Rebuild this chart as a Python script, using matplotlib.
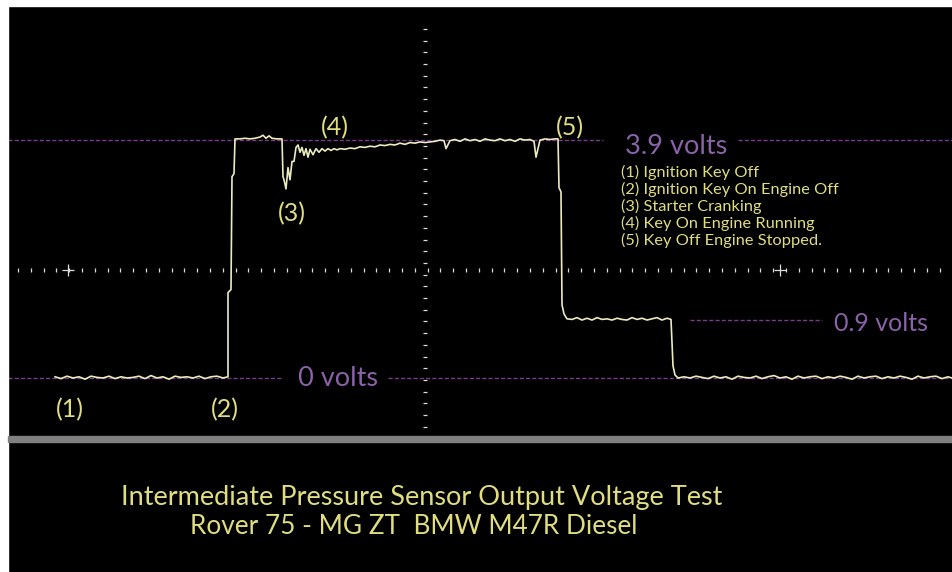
import numpy as np
import matplotlib.pyplot as plt
from matplotlib.patches import Rectangle

# scope trace, time in screen units, level in volts
t_off1 = [55, 61, 67, 73, 79, 85, 91, 97, 103, 109, 115, 121, 127, 133, 139,
          145, 151, 157, 163, 169, 175, 181, 187, 193, 199, 205, 211, 217, 223, 228]
v_off1 = [0.02, -0.01, 0.03, 0.0, 0.02, -0.02, 0.03, 0.01, 0.0, 0.03, -0.01, 0.02,
          0.0, 0.01, 0.03, -0.01, 0.04, 0.0, 0.02, -0.02, 0.03, 0.01, 0.02, 0.0,
          0.03, -0.01, 0.02, 0.03, 0.0, 0.02]

t_rise = [228, 231, 232, 234, 235]
v_rise = [1.40, 1.45, 3.30, 3.35, 3.92]

t_keyon = [240, 245, 250, 255, 260, 263, 266, 269, 272, 277, 282]
v_keyon = [3.92, 3.93, 3.92, 3.93, 3.95, 3.98, 3.93, 3.97, 3.93, 3.92, 3.92]

t_crank = [283, 284, 286, 288, 290, 292, 294, 296, 298, 300, 302, 304, 306, 308,
           310, 313, 316, 319, 322, 325, 328, 331, 334, 337, 340, 345, 350, 355,
           360, 365, 370, 375, 380, 385, 390, 395, 400, 405, 410, 415, 420, 425, 430]
v_crank = [3.30, 3.25, 3.10, 3.45, 3.25, 3.55, 3.55, 3.78, 3.82, 3.70, 3.78, 3.65,
           3.76, 3.62, 3.75, 3.66, 3.76, 3.70, 3.76, 3.72, 3.76, 3.73, 3.76, 3.74,
           3.76, 3.75, 3.77, 3.76, 3.79, 3.78, 3.80, 3.79, 3.82, 3.81, 3.83, 3.82,
           3.85, 3.83, 3.86, 3.85, 3.87, 3.86, 3.87]

t_run = [435, 440, 444, 446, 450, 455, 460, 465, 470, 475, 480, 485, 490, 495,
         500, 505, 510, 515, 520, 525, 530, 534, 536, 540, 545, 550, 555, 558]
v_run = [3.88, 3.90, 3.89, 3.76, 3.89, 3.91, 3.88, 3.92, 3.89, 3.91, 3.88, 3.92,
         3.90, 3.89, 3.92, 3.89, 3.91, 3.88, 3.92, 3.90, 3.91, 3.88, 3.62, 3.90,
         3.92, 3.91, 3.92, 3.92]

t_stop = [559, 561, 562, 564, 567]
v_stop = [3.12, 3.05, 1.20, 1.05, 0.97]

t_mid = [572, 577, 582, 587, 592, 597, 602, 607, 612, 617, 622, 627, 632, 637,
         642, 647, 652, 657, 662, 667, 671]
v_mid = [0.96, 0.99, 0.95, 0.98, 0.95, 0.99, 0.96, 0.97, 0.95, 0.98, 0.96, 0.95,
         0.99, 0.96, 0.98, 0.95, 0.97, 0.99, 0.95, 0.98, 0.96]

t_fall = [673, 675, 678]
v_fall = [0.20, 0.05, 0.0]

t_off2 = [684, 690, 696, 702, 708, 714, 720, 726, 732, 738, 744, 750, 756, 762,
          768, 774, 780, 786, 792, 798, 804, 810, 816, 822, 828, 834, 840, 846,
          852, 858, 864, 870, 876, 882, 888, 894, 900, 906, 912, 918, 924, 930,
          936, 942, 948, 952]
v_off2 = [0.02, 0.0, 0.03, 0.01, -0.01, 0.03, 0.0, 0.02, -0.02, 0.03, 0.01, 0.0,
          0.03, -0.01, 0.02, 0.04, 0.0, 0.02, -0.02, 0.03, 0.0, 0.02, 0.03, -0.01,
          0.02, 0.0, 0.03, 0.01, -0.02, 0.03, 0.0, 0.02, 0.03, -0.01, 0.02, 0.0,
          0.03, 0.01, -0.02, 0.03, 0.0, 0.02, 0.03, -0.01, 0.02, 0.0]

trace_t = t_off1 + t_rise + t_keyon + t_crank + t_run + t_stop + t_mid + t_fall + t_off2
trace_v = v_off1 + v_rise + v_keyon + v_crank + v_run + v_stop + v_mid + v_fall + v_off2

# reference levels: (volts, segments)
ref_levels = [
    (3.90, [(8, 603), (738, 952)]),
    (0.95, [(690, 822)]),
    (0.00, [(8, 283), (388, 952)]),
]
level_labels = [(676, 3.79, '3.9 volts', 19.5), (881, 0.90, '0.9 volts', 18),
                (338, 0.0, '0 volts', 19.5)]

event_labels = [(70, -0.52, '(1)'), (225, -0.52, '(2)'), (292, 2.70, '(3)'),
                (335, 4.10, '(4)'), (570, 4.10, '(5)')]
legend_lines = ['(1) Ignition Key Off', '(2) Ignition Key On Engine Off',
                '(3) Starter Cranking', '(4) Key On Engine Running',
                '(5) Key Off Engine Stopped.']
title_lines = ['Intermediate Pressure Sensor Output Voltage Test',
               'Rover 75 - MG ZT  BMW M47R Diesel']

purple = '#8a62a8'
line_purple = '#7a3a8e'
yellow = '#e0dc80'
trace_col = '#ecebc0'
font = ['Lato', 'DejaVu Sans']

fig = plt.figure(figsize=(9.52, 5.72), dpi=100, facecolor='black')
# white borders of the screenshot
fig.patches.append(Rectangle((0, 0), 8 / 952, 1, transform=fig.transFigure,
                             color='white', zorder=0))
fig.patches.append(Rectangle((0, 1 - 6 / 572), 1, 6 / 572, transform=fig.transFigure,
                             color='white', zorder=0))
fig.patches.append(Rectangle((8 / 952, (572 - 442) / 572), 1, 6 / 572,
                             transform=fig.transFigure, color='#808080', zorder=0))

ax = fig.add_axes([8 / 952, (572 - 436) / 572, 944 / 952, 430 / 572])
ax.set_facecolor('black')
ax.set_xlim(8, 952)
ax.set_ylim((378 - 436) / 61, (378 - 6) / 61)
ax.axis('off')

# graticule centre lines
cx, cy = 425, (378 - 270) / 61
ax.scatter(np.full(35, cx), np.arange(-0.80, 6.0, 11.7 / 61)[:35], marker='_',
           s=12, color='#dddddd', linewidths=0.9, zorder=2)
hx = np.arange(18, 952, 12.8)
ax.scatter(hx, np.full(len(hx), cy), marker='|', s=8, color='#dddddd',
           linewidths=0.9, zorder=2)
ax.scatter([68, 780], [cy, cy], marker='+', s=70, color='#dddddd', linewidths=0.9, zorder=2)

for lvl, segs in ref_levels:
    for a, b in segs:
        ax.plot([a, b], [lvl, lvl], color=line_purple, lw=1.0, ls=(0, (3, 1.5)), zorder=3)

ax.plot(trace_t, trace_v, color=trace_col, lw=1.2, zorder=4)

for x, y, s, fs in level_labels:
    ax.text(x, y, s, color=purple, fontsize=fs, ha='center', va='center', family=font)
for x, y, s in event_labels:
    ax.text(x, y, s, color=yellow, fontsize=18, ha='center', va='center', family=font)
for i, s in enumerate(legend_lines):
    ax.text(621, (378 - 172 - 17 * i) / 61, s, color=yellow, fontsize=11.8,
            ha='left', va='center', family=font)

fig.text(422 / 952, 1 - 497 / 572, title_lines[0], color=yellow, fontsize=19.5,
         ha='center', va='center', family=font)
fig.text(414 / 952, 1 - 527 / 572, title_lines[1], color=yellow, fontsize=18.8,
         ha='center', va='center', family=font)

fig.savefig('out.png', dpi=100, facecolor='black')
